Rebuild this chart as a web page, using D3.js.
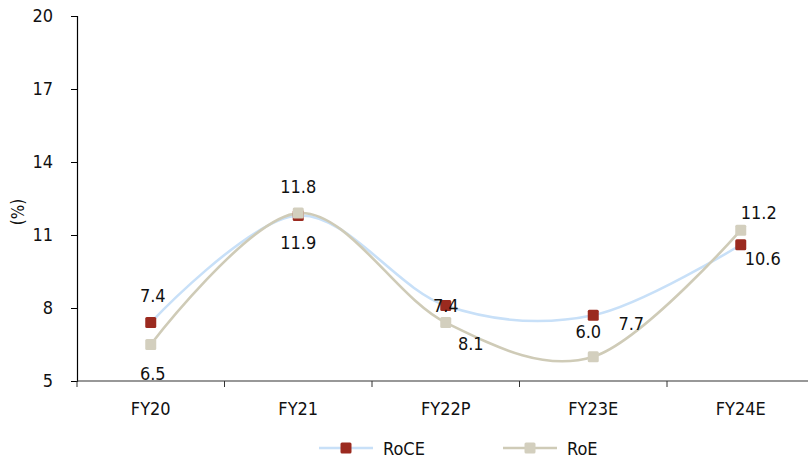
<!DOCTYPE html>
<html><head><meta charset="utf-8">
<script src="https://cdn.jsdelivr.net/npm/d3@7"></script>
<style>
body{margin:0;background:#fff;}
text{font-family:"Liberation Sans Narrow","DejaVu Sans Condensed","Roboto",sans-serif;fill:#111;}
</style></head>
<body><svg id="c" width="808" height="463"></svg>
<script>
const categories = ["FY20","FY21","FY22P","FY23E","FY24E"];
const roce = [7.4, 11.8, 8.1, 7.7, 10.6];
const roe  = [6.5, 11.9, 7.4, 6.0, 11.2];
const yTicks = [5, 8, 11, 14, 17, 20];
const seriesNames = ["RoCE","RoE"];
// label offsets (styling) relative to each marker
const roceLabelOff = [[2,-27],[0,-29],[25,38],[38,9],[22,14]];
const roeLabelOff  = [[2,29],[0,30],[0,-17],[-5,-25],[18,-17]];

const svg = d3.select("#c");
const x = d3.scaleBand().domain(categories).range([77, 814.5]);
const y = d3.scaleLinear().domain([5,20]).range([381,16]);

// y axis
const yAxis = svg.append("g").attr("transform","translate(77,0)")
  .call(d3.axisLeft(y).tickValues(yTicks).tickSize(6).tickPadding(18));
yAxis.select(".domain").attr("stroke","#000").attr("stroke-width",1.2);
yAxis.selectAll(".tick line").attr("stroke","#000");
yAxis.selectAll(".tick text").style("font-size","18px").attr("fill","#111");

// x axis
const xAxis = svg.append("g").attr("transform","translate(0,381)");
xAxis.append("line").attr("x1",77).attr("x2",808).attr("y1",0).attr("y2",0).attr("stroke","#333").attr("stroke-width",1.2);
const bounds = categories.map(c => x(c)).concat([x(categories[categories.length-1]) + x.bandwidth()]);
xAxis.selectAll(".xt").data(bounds.slice(0,5)).join("line")
  .attr("x1",d=>d).attr("x2",d=>d).attr("y1",0).attr("y2",6).attr("stroke","#333");
xAxis.selectAll(".xl").data(categories).join("text")
  .attr("x",d=>x(d)+x.bandwidth()/2).attr("y",34).attr("text-anchor","middle")
  .style("font-size","18px").text(d=>d);

// y title
svg.append("text").attr("transform","translate(24,212) rotate(-90)").attr("text-anchor","middle")
  .style("font-size","17px").text("(%)");

const cx = d => x(d) + x.bandwidth()/2;
const line = d3.line().x((d,i)=>cx(categories[i])).y(d=>y(d)).curve(d3.curveCardinal.tension(0));

const roceColor = "#c8e0f8", roceMarker = "#9b2a1f";
const roeColor = "#cfcbb7", roeMarker = "#d3cfbe";

svg.append("path").datum(roce).attr("d",line).attr("fill","none").attr("stroke",roceColor).attr("stroke-width",2.6);
svg.append("path").datum(roe).attr("d",line).attr("fill","none").attr("stroke",roeColor).attr("stroke-width",2.6);

function markers(data, color){
  svg.append("g").selectAll("rect").data(data).join("rect")
    .attr("x",(d,i)=>cx(categories[i])-5.5).attr("y",d=>y(d)-5.5)
    .attr("width",11).attr("height",11).attr("rx",1.5).attr("fill",color);
}
markers(roce, roceMarker);
markers(roe, roeMarker);

function labels(data, off){
  svg.append("g").selectAll("text").data(data).join("text")
    .attr("x",(d,i)=>cx(categories[i])+off[i][0]).attr("y",(d,i)=>y(d)+off[i][1]+6)
    .attr("text-anchor","middle").style("font-size","18px").text(d=>d.toFixed(1));
}
labels(roce, roceLabelOff);
labels(roe, roeLabelOff);

// legend
const lg = svg.append("g");
const items = [{n:seriesNames[0],lc:roceColor,mc:roceMarker,x:319},{n:seriesNames[1],lc:roeColor,mc:roeMarker,x:503}];
items.forEach(it=>{
  lg.append("line").attr("x1",it.x).attr("x2",it.x+54).attr("y1",448).attr("y2",448).attr("stroke",it.lc).attr("stroke-width",2.6);
  lg.append("rect").attr("x",it.x+27-5.5).attr("y",448-5.5).attr("width",11).attr("height",11).attr("rx",1.5).attr("fill",it.mc);
  lg.append("text").attr("x",it.x+64).attr("y",454.5).style("font-size","18px").text(it.n);
});
</script></body></html>
